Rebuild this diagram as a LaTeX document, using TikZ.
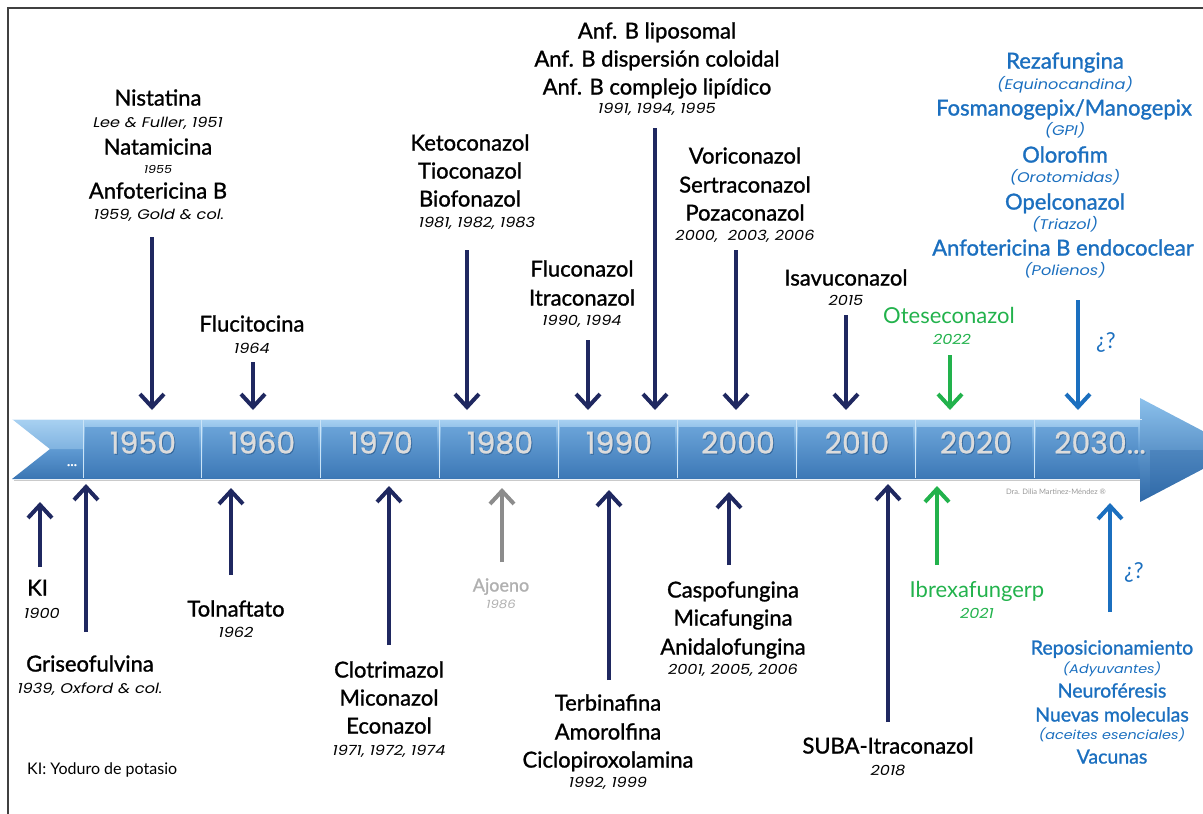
\documentclass[tikz,border=0pt]{standalone}
\usepackage{fontspec}
\setmainfont{Lato}
\newfontfamily\namefont{Lato}[FakeBold=1.2]
\newfontfamily\yrfont{Poppins}[FakeStretch=1.15]
\newfontfamily\bandfont{Poppins}[FakeBold=0.8]
\usetikzlibrary{arrows.meta}
\definecolor{navy}{HTML}{1F2860}
\definecolor{grn}{HTML}{22B24C}
\definecolor{blu}{HTML}{1B6FBF}
\definecolor{arrgray}{HTML}{8C8C8C}
\definecolor{txtgray}{HTML}{B0B0B0}
\definecolor{bandtop}{HTML}{A9D2F2}
\definecolor{bandmid}{HTML}{5F9AD2}
\definecolor{bandbot}{HTML}{3A75B3}
\definecolor{paneltop}{HTML}{6AA3D8}
\definecolor{panelbot}{HTML}{3D79B7}
\definecolor{headtop}{HTML}{8CC1EC}
\definecolor{headbot}{HTML}{2F69A8}
\definecolor{yeartxt}{HTML}{DCDCDC}
\definecolor{yearshd}{HTML}{2A5A8C}
\tikzset{
  nm/.style={font=\namefont\fontsize{22}{24}\selectfont, anchor=mid, inner sep=0pt, yshift=-6pt},
  lt/.style={font=\fontsize{22}{24}\selectfont, anchor=mid, inner sep=0pt, yshift=-6pt},
  yr/.style={font=\yrfont\fontsize{14}{15}\selectfont\itshape, anchor=mid, inner sep=0pt, yshift=-3pt},
  arrowline/.style={line width=4pt, -{Straight Barb[length=13pt,width=24pt]}},
  dn/.style={arrowline, draw=navy},
  yearlbl/.style={font=\bandfont\fontsize{30}{32}\selectfont, text=yeartxt, inner sep=0pt, anchor=mid},
  yearshadow/.style={font=\bandfont\fontsize{30}{32}\selectfont, text=yearshd, opacity=0.6, inner sep=0pt, anchor=mid},
  panel/.style={top color=paneltop, bottom color=panelbot, draw=none},
  divider/.style={draw=bandtop!60!white, line width=0.8pt},
}
\begin{document}
\begin{tikzpicture}[x=1pt,y=-1pt]
\useasboundingbox (0,0) rectangle (1203,814);
\clip (0,0) rectangle (1203,814);
% frame
\draw[line width=2pt, black!75] (8,814) -- (8,8) -- (1210,8);

% ---------- timeline band ----------
\path[top color=bandtop, bottom color=bandbot, middle color=bandmid]
  (12,419) -- (1145,419) -- (1145,479) -- (12,479) -- (50,449) -- cycle;
\path[top color=headtop, bottom color=headbot]
  (1140,398) -- (1239,450) -- (1140,502) -- cycle;
\path[fill=headbot, opacity=0.35] (1140,502) -- (1239,450) -- (1150,450) -- (1150,495) -- cycle;
\path[fill=bandtop, opacity=0.45] (12,419) -- (83,419) -- (83,449) -- (50,449) -- cycle;
\foreach \xa/\xb in {83/201,201/320,320/439,439/558,558/677,677/796,796/915,915/1034,1034/1140}{
  \path[panel] (\xa+2,427) rectangle (\xb-2,477);
  \draw[divider] (\xa,420) -- (\xa,478);
}
\draw[white, line width=0.8pt, opacity=0.7] (12,419.5) -- (1142,419.5);
\draw[black!35, line width=1pt, opacity=0.6] (14,480) -- (1140,480);

% year labels
\node[yearshadow] (s50) at (144,452) {1950};
\node[yearlbl] (y50) at (143,451) {1950};
\node[yearshadow] (s60) at (263,452) {1960};
\node[yearlbl] (y60) at (262,451) {1960};
\node[yearshadow] (s70) at (382,452) {1970};
\node[yearlbl] (y70) at (381,451) {1970};
\node[yearshadow] (s80) at (501,452) {1980};
\node[yearlbl] (y80) at (500,451) {1980};
\node[yearshadow] (s90) at (620,452) {1990};
\node[yearlbl] (y90) at (619,451) {1990};
\node[yearshadow] (s00) at (739,452) {2000};
\node[yearlbl] (y00) at (738,451) {2000};
\node[yearshadow] (s10) at (858,452) {2010};
\node[yearlbl] (y10) at (857,451) {2010};
\node[yearshadow] (s20) at (977,452) {2020};
\node[yearlbl] (y20) at (976,451) {2020};
\node[yearshadow] (s30) at (1101,452) {2030...};
\node[yearlbl] (y30) at (1100,451) {2030...};
\node[font=\bandfont\fontsize{16}{18}\selectfont, text=white, inner sep=0pt, anchor=base] (dots) at (72,466) {...};
\node[font=\fontsize{7.5}{8}\selectfont, text=black!40, inner sep=0pt, anchor=mid] (sig) at (1056,492) {Dra. Dilia Martinez-Méndez ®};

% ---------- top groups ----------
\node[nm] (nis) at (158,97) {Nistatina};
\node[yr] (nisy) at (158,122) {Lee \& Fuller, 1951};
\node[nm] (nat) at (158,146) {Natamicina};
\node[yr, font=\yrfont\fontsize{11}{12}\selectfont\itshape] (naty) at (158,168) {1955};
\node[nm] (anf) at (158,190) {Anfotericina B};
\node[yr] (anfy) at (159,214) {1959, Gold \& col.};
\coordinate (a1s) at (152,237); \coordinate (a1e) at (152,410);
\draw[dn] (a1s) -- (a1e);

\node[nm] (flu) at (252,323) {Flucitocina};
\node[yr] (fluy) at (252,348) {1964};
\coordinate (a2s) at (253,362); \coordinate (a2e) at (253,410);
\draw[dn] (a2s) -- (a2e);

\node[nm] (ket) at (470,142) {Ketoconazol};
\node[nm] (tio) at (470,170) {Tioconazol};
\node[nm] (bio) at (470,198) {Biofonazol};
\node[yr] (keyy) at (477,222) {1981, 1982, 1983};
\coordinate (a3s) at (467,250); \coordinate (a3e) at (467,410);
\draw[dn] (a3s) -- (a3e);

\node[nm] (fcz) at (582,268) {Fluconazol};
\node[nm] (itz) at (582,297) {Itraconazol};
\node[yr] (fczy) at (582,320) {1990, 1994};
\coordinate (a4s) at (588,340); \coordinate (a4e) at (588,410);
\draw[dn] (a4s) -- (a4e);

\node[nm] (ab1) at (657,30) {Anf. B liposomal};
\node[nm] (ab2) at (657,58) {Anf. B dispersión coloidal};
\node[nm] (ab3) at (657,86) {Anf. B complejo lipídico};
\node[yr] (aby) at (657,108) {1991, 1994, 1995};
\coordinate (a5s) at (655,128); \coordinate (a5e) at (655,410);
\draw[dn] (a5s) -- (a5e);

\node[nm] (vor) at (745,155) {Voriconazol};
\node[nm] (ser) at (745,184) {Sertraconazol};
\node[nm] (poz) at (745,212) {Pozaconazol};
\node[yr] (vory) at (745,235) {2000,\ \ 2003, 2006};
\coordinate (a6s) at (736,250); \coordinate (a6e) at (736,410);
\draw[dn] (a6s) -- (a6e);

\node[nm] (isa) at (846,277) {Isavuconazol};
\node[yr] (isay) at (846,300) {2015};
\coordinate (a7s) at (846,315); \coordinate (a7e) at (846,410);
\draw[dn] (a7s) -- (a7e);

\node[lt, text=grn] (ote) at (949,315) {Oteseconazol};
\node[yr, text=grn] (otey) at (952,339) {2022};
\coordinate (a8s) at (950,355); \coordinate (a8e) at (950,410);
\draw[arrowline, draw=grn] (a8s) -- (a8e);

\node[nm, text=blu] (rez) at (1065,60) {Rezafungina};
\node[yr, text=blu] (rezy) at (1065,84) {(Equinocandina)};
\node[nm, text=blu] (fos) at (1064,107) {Fosmanogepix/Manogepix};
\node[yr, text=blu] (fosy) at (1065,130) {(GPI)};
\node[nm, text=blu] (olo) at (1065,154) {Olorofim};
\node[yr, text=blu] (oloy) at (1065,177) {(Orotomidas)};
\node[nm, text=blu] (ope) at (1065,201) {Opelconazol};
\node[yr, text=blu] (opey) at (1065,224) {(Triazol)};
\node[nm, text=blu] (aen) at (1063,247) {Anfotericina B endococlear};
\node[yr, text=blu] (aeny) at (1065,270) {(Polienos)};
\coordinate (a9s) at (1078,300); \coordinate (a9e) at (1078,410);
\draw[arrowline, draw=blu] (a9s) -- (a9e);
\node[lt, text=blu] (q1) at (1106,340) {¿?};

% ---------- bottom groups ----------
\coordinate (b1s) at (40,567); \coordinate (b1e) at (40,502);
\draw[dn] (b1s) -- (b1e);
\node[nm, anchor=mid west] (ki) at (27,587) {KI};
\node[yr] (kiy) at (42,613) {1900};

\coordinate (b2s) at (86,632); \coordinate (b2e) at (86,484);
\draw[dn] (b2s) -- (b2e);
\node[nm] (gri) at (90,663) {Griseofulvina};
\node[yr] (griy) at (90,688) {1939, Oxford \& col.};

\coordinate (b3s) at (231,575); \coordinate (b3e) at (231,488);
\draw[dn] (b3s) -- (b3e);
\node[nm] (tol) at (236,608) {Tolnaftato};
\node[yr] (toly) at (236,632) {1962};

\coordinate (b4s) at (389,645); \coordinate (b4e) at (389,486);
\draw[dn] (b4s) -- (b4e);
\node[nm] (clo) at (389,669) {Clotrimazol};
\node[nm] (mic) at (389,697) {Miconazol};
\node[nm] (eco) at (389,725) {Econazol};
\node[yr] (cloy) at (389,750) {1971, 1972, 1974};

\coordinate (b5s) at (502,562); \coordinate (b5e) at (502,488);
\draw[arrowline, draw=arrgray] (b5s) -- (b5e);
\node[nm, text=txtgray, font=\namefont\fontsize{18}{20}\selectfont] (ajo) at (501,583) {Ajoeno};
\node[yr, text=txtgray, font=\yrfont\fontsize{11.5}{13}\selectfont\itshape] (ajoy) at (501,603) {1986};

\coordinate (b6s) at (609,680); \coordinate (b6e) at (609,490);
\draw[dn] (b6s) -- (b6e);
\node[nm] (ter) at (608,702) {Terbinafina};
\node[nm] (amo) at (608,731) {Amorolfina};
\node[nm] (cic) at (608,759) {Ciclopiroxolamina};
\node[yr] (tery) at (608,782) {1992, 1999};

\coordinate (b7s) at (729,565); \coordinate (b7e) at (729,492);
\draw[dn] (b7s) -- (b7e);
\node[nm] (cas) at (733,589) {Caspofungina};
\node[nm] (mcf) at (733,617) {Micafungina};
\node[nm] (ani) at (733,646) {Anidalofungina};
\node[yr] (casy) at (733,669) {2001, 2005, 2006};

\coordinate (b8s) at (888,722); \coordinate (b8e) at (888,484);
\draw[dn] (b8s) -- (b8e);
\node[nm] (sub) at (888,745) {SUBA-Itraconazol};
\node[yr] (suby) at (888,770) {2018};

\coordinate (b9s) at (937,565); \coordinate (b9e) at (937,486);
\draw[arrowline, draw=grn] (b9s) -- (b9e);
\node[lt, text=grn] (ibr) at (977,589) {Ibrexafungerp};
\node[yr, text=grn] (ibry) at (977,613) {2021};

\coordinate (b10s) at (1110,612); \coordinate (b10e) at (1110,503);
\draw[arrowline, draw=blu] (b10s) -- (b10e);
\node[lt, text=blu] (q2) at (1134,570) {¿?};
\node[nm, text=blu, font=\namefont\fontsize{19.5}{21}\selectfont] (rep) at (1112,646) {Reposicionamiento};
\node[yr, text=blu, font=\yrfont\fontsize{12.5}{14}\selectfont\itshape] (repy) at (1112,668) {(Adyuvantes)};
\node[nm, text=blu, font=\namefont\fontsize{19.5}{21}\selectfont] (neu) at (1112,689) {Neuroféresis};
\node[nm, text=blu, font=\namefont\fontsize{19.5}{21}\selectfont] (nue) at (1112,713) {Nuevas moleculas};
\node[yr, text=blu, font=\yrfont\fontsize{12.5}{14}\selectfont\itshape] (nuey) at (1112,734) {(aceites esenciales)};
\node[nm, text=blu, font=\namefont\fontsize{19.5}{21}\selectfont] (vac) at (1112,755) {Vacunas};

\node[font=\fontsize{16}{18}\selectfont, anchor=mid west, inner sep=0pt, yshift=-4pt] (kinote) at (27,768) {KI: Yoduro de potasio};
\end{tikzpicture}
\end{document}
